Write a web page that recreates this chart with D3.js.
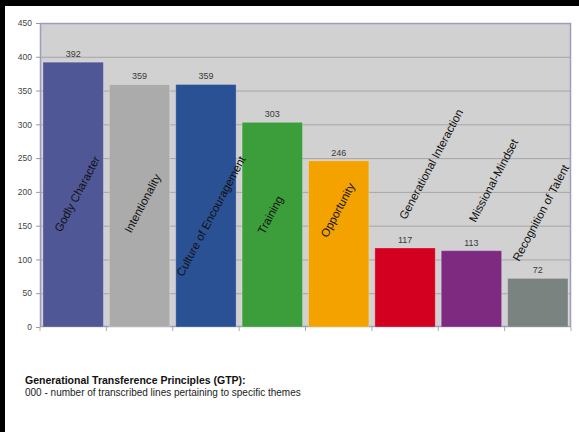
<!DOCTYPE html>
<html>
<head>
<meta charset="utf-8">
<script src="https://cdn.jsdelivr.net/npm/d3@7"></script>
<style>
  html, body { margin: 0; padding: 0; background: #000; }
  svg { display: block; font-family: Arial, "Liberation Sans", sans-serif; }
</style>
</head>
<body>
<script>
// chart values
const themes = ['Godly Character', 'Intentionality', 'Culture of Encouragement', 'Training',
  'Opportunity', 'Generational Interaction', 'Missional-Mindset', 'Recognition of Talent'];
const lineCounts = [392, 359, 359, 303, 246, 117, 113, 72];
const barColors = ['#4f5797', '#ababab', '#2b5195', '#3b9e3a', '#f4a200', '#d3001f', '#7e2a80', '#7b8381'];
const yTicks = [0, 50, 100, 150, 200, 250, 300, 350, 400, 450];
const captionTitle = 'Generational Transference Principles (GTP):';
const captionNote = '000 - number of transcribed lines pertaining to specific themes';

// where the slanted theme names sit (value level of label middle, x nudge)
const labelSpot = [[197, 4], [183, 3], [164, 5], [166, -2], [173, -1], [241, 26], [217, 22], [169, 3]];

const w = 579, h = 432;
const plot = { left: 40, right: 571, top: 23, bottom: 327 };

const svg = d3.select('body').append('svg').attr('width', w).attr('height', h);

// page: black scan edge on top and left, white sheet elsewhere
svg.append('rect').attr('width', w).attr('height', h).attr('fill', '#000');
svg.append('rect').attr('x', 5).attr('y', 6).attr('width', w - 5).attr('height', h - 6).attr('fill', '#fff');

const x = d3.scaleBand().domain(themes).range([plot.left, plot.right]).paddingInner(0.09).paddingOuter(0.045);
const y = d3.scaleLinear().domain([0, 450]).range([plot.bottom, plot.top]);

svg.append('rect')
  .attr('x', plot.left).attr('y', plot.top)
  .attr('width', plot.right - plot.left).attr('height', plot.bottom - plot.top)
  .attr('fill', '#d1d1d1');

// gridlines
svg.append('g')
  .selectAll('line')
  .data(yTicks.slice(1, -1))
  .enter()
  .append('line')
  .attr('x1', plot.left).attr('x2', plot.right)
  .attr('y1', d => y(d) + 0.5).attr('y2', d => y(d) + 0.5)
  .attr('stroke', '#a6a6a6');

svg.append('rect')
  .attr('x', plot.left + 0.5).attr('y', plot.top + 0.5)
  .attr('width', plot.right - plot.left - 1).attr('height', plot.bottom - plot.top - 1)
  .attr('fill', 'none').attr('stroke', '#9d9dbe').attr('stroke-width', 1.5);

const yAxis = d3.axisLeft(y).tickValues(yTicks).tickSize(4).tickPadding(4);
svg.append('g')
  .attr('transform', `translate(${plot.left}, 0)`)
  .call(yAxis)
  .call(g => g.select('.domain').remove())
  .call(g => g.selectAll('.tick line').attr('stroke', '#999'))
  .call(g => g.selectAll('.tick text').attr('fill', '#444').style('font-size', '8.5px'));

// ticks at the category boundaries along the bottom
svg.append('g')
  .selectAll('line')
  .data(d3.range(themes.length + 1))
  .enter()
  .append('line')
  .attr('x1', i => plot.left + i * (plot.right - plot.left) / themes.length)
  .attr('x2', i => plot.left + i * (plot.right - plot.left) / themes.length)
  .attr('y1', plot.bottom).attr('y2', plot.bottom + 4)
  .attr('stroke', '#aaa');

svg.selectAll('rect.bar')
  .data(lineCounts)
  .enter()
  .append('rect')
  .attr('class', 'bar')
  .attr('x', (d, i) => x(themes[i]))
  .attr('y', d => y(d))
  .attr('width', x.bandwidth())
  .attr('height', d => y(0) - y(d))
  .attr('fill', (d, i) => barColors[i])
  .attr('stroke', 'rgba(255,255,255,0.25)');

// value labels
svg.selectAll('text.val')
  .data(lineCounts)
  .enter()
  .append('text')
  .attr('class', 'val')
  .attr('x', (d, i) => x(themes[i]) + x.bandwidth() / 2)
  .attr('y', d => y(d) - 5)
  .attr('text-anchor', 'middle')
  .attr('fill', '#3a3a3a')
  .style('font-size', '9px')
  .text(d => d);

// slanted theme names
svg.selectAll('text.theme')
  .data(themes)
  .enter()
  .append('text')
  .attr('class', 'theme')
  .attr('transform', (d, i) => {
    const cx = x(d) + x.bandwidth() / 2 + labelSpot[i][1];
    const cy = y(labelSpot[i][0]);
    return `translate(${cx}, ${cy}) rotate(-62)`;
  })
  .attr('text-anchor', 'middle')
  .attr('dy', '0.35em')
  .attr('fill', '#111')
  .style('font-size', '11.5px')
  .text(d => d);

svg.append('text')
  .attr('x', 25).attr('y', 384)
  .style('font-size', '10.5px').style('font-weight', 'bold')
  .attr('fill', '#111')
  .text(captionTitle);

svg.append('text')
  .attr('x', 25).attr('y', 396)
  .style('font-size', '10px')
  .attr('fill', '#222')
  .text(captionNote);
</script>
</body>
</html>
